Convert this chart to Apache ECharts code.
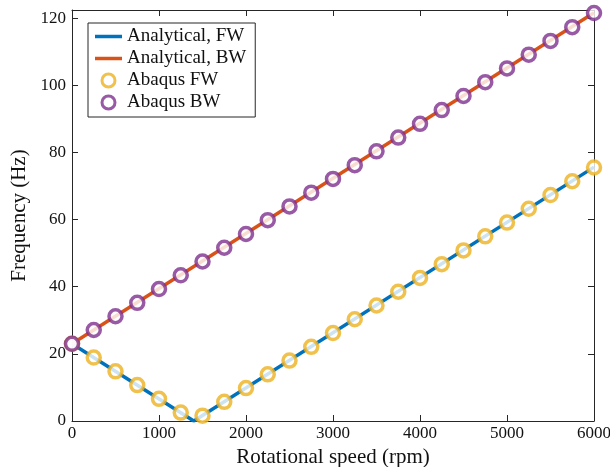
<!DOCTYPE html>
<html><head><meta charset="utf-8">
<script src="https://cdn.jsdelivr.net/npm/echarts@6/dist/echarts.min.js"></script>
<style>html,body{margin:0;padding:0;background:#fff}#c{width:610px;height:467px}</style>
</head><body><div id="c"></div>
<script>
// Data
const speedRpm = [0,250,500,750,1000,1250,1500,1750,2000,2250,2500,2750,3000,3250,3500,3750,4000,4250,4500,4750,5000,5250,5500,5750,6000];
const abaqusFW = [23,18.9,14.8,10.7,6.6,2.5,1.6,5.7,9.8,13.9,18,22.1,26.2,30.3,34.4,38.5,42.6,46.7,50.8,55,59.1,63.2,67.3,71.4,75.5];
const abaqusBW = [23,27.1,31.2,35.2,39.3,43.4,47.5,51.6,55.7,59.8,63.9,68,72.1,76.2,80.3,84.4,88.5,92.6,96.8,100.9,105,109.1,113.2,117.3,121.5];
const analyticalSpeed = [0,1400,6000];
const analyticalFW = [23,0,75.6];
const analyticalBWSpeed = [0,6000];
const analyticalBW = [23,121.6];
const xTicks = [0,1000,2000,3000,4000,5000,6000];
const yTicks = [0,20,40,60,80,100,120];

const pairs = (xs, ys) => xs.map((x,i)=>[x,ys[i]]);
const FONT = 'Liberation Serif';
const AX = '#262626';
const LINE_ICON = 'path://M0,0L27,0L27,3.5L0,3.5Z';

const chart = echarts.init(document.getElementById('c'), null, {renderer:'canvas'});
const baseAxis = {
  axisLine:{show:true,onZero:false,lineStyle:{color:AX,width:1}},
  axisTick:{show:true,inside:true,length:6,lineStyle:{color:AX}},
  splitLine:{show:false},
};
chart.setOption({
  animation:false,
  backgroundColor:'#fff',
  textStyle:{fontFamily:FONT},
  grid:{left:72,right:16,top:10,bottom:46,containLabel:false,outerBoundsMode:'none'},
  xAxis:[
    Object.assign({},baseAxis,{type:'value',min:0,max:6000,interval:1000,position:'bottom',
      name:'Rotational speed (rpm)',nameLocation:'middle',nameGap:24,
      nameTextStyle:{fontFamily:FONT,fontSize:21,color:'#111'},
      axisLabel:{fontFamily:FONT,fontSize:17,color:'#111',margin:4,
        formatter:v=>xTicks.includes(v)?String(v):''}}),
    Object.assign({},baseAxis,{type:'value',min:0,max:6000,interval:1000,position:'top',
      axisLabel:{show:false}})
  ],
  yAxis:[
    Object.assign({},baseAxis,{type:'value',min:0,max:122.4,interval:20,position:'left',
      name:'Frequency (Hz)',nameLocation:'middle',nameGap:42,
      nameTextStyle:{fontFamily:FONT,fontSize:21,color:'#111'},
      axisLabel:{fontFamily:FONT,fontSize:17,color:'#111',margin:6,showMaxLabel:false,
        formatter:v=>yTicks.includes(v)?String(v):''}}),
    Object.assign({},baseAxis,{type:'value',min:0,max:122.4,interval:20,position:'right',
      axisLabel:{show:false}})
  ],
  legend:{
    orient:'vertical',left:88,top:23,
    backgroundColor:'#fff',borderColor:AX,borderWidth:1,
    padding:[4,9,5,7],itemGap:3,itemWidth:27,itemHeight:13,
    textStyle:{fontFamily:FONT,fontSize:19,color:'#111'},
    data:[
      {name:'Analytical, FW',icon:LINE_ICON},
      {name:'Analytical, BW',icon:LINE_ICON},
      {name:'Abaqus FW',itemStyle:{borderWidth:3}},
      {name:'Abaqus BW',itemStyle:{borderWidth:3}}
    ]
  },
  series:[
    {name:'Analytical, FW',type:'line',data:pairs(analyticalSpeed,analyticalFW),symbol:'none',
      lineStyle:{color:'#0072BD',width:3.5},itemStyle:{color:'#0072BD'},z:2},
    {name:'Analytical, BW',type:'line',data:pairs(analyticalBWSpeed,analyticalBW),symbol:'none',
      lineStyle:{color:'#D95319',width:3.5},itemStyle:{color:'#D95319'},z:2},
    {name:'Abaqus FW',type:'scatter',data:pairs(speedRpm,abaqusFW),symbol:'circle',symbolSize:13,
      itemStyle:{color:'#fff',borderColor:'#EDB120',borderWidth:3.5},z:3},
    {name:'Abaqus BW',type:'scatter',data:pairs(speedRpm,abaqusBW),symbol:'circle',symbolSize:13,
      itemStyle:{color:'#fff',borderColor:'#7E2F8E',borderWidth:3.5},z:3}
  ]
});
</script></body></html>
